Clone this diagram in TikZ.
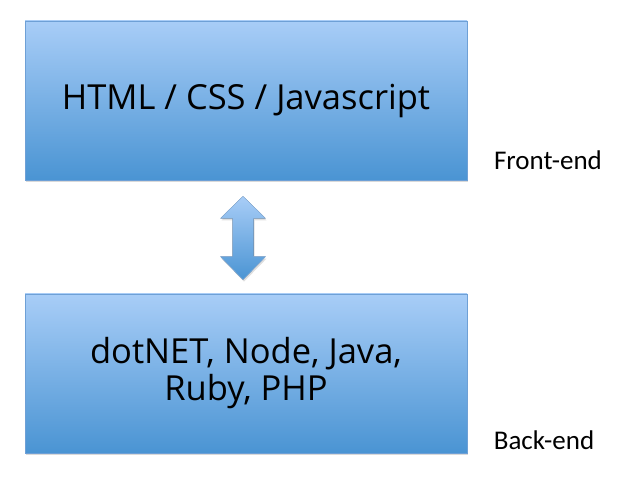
\documentclass[tikz,border=0pt]{standalone}
\usepackage{fontspec}
\setmainfont{Carlito}
\newfontfamily\cutiefont{Open Sans}
\usetikzlibrary{shadows,calc}

\definecolor{bluesus}{RGB}{168,205,247}
\definecolor{bluejos}{RGB}{74,148,211}
\definecolor{bluecontur}{RGB}{110,160,214}

\tikzset{
  cutie/.style={draw=bluecontur,line width=0.6pt,top color=bluesus,bottom color=bluejos,
    minimum width=442pt,minimum height=159pt,align=center,
    font=\cutiefont\fontsize{34.5}{37}\selectfont,
    drop shadow={opacity=0.3,shadow xshift=1pt,shadow yshift=-2pt}},
  eticheta/.style={font=\fontsize{27}{30}\selectfont}
}

\begin{document}
\begin{tikzpicture}[x=1pt,y=1pt]
  \useasboundingbox (0,0) rectangle (625,480);

  % cele două cutii
  \node[cutie] (front) at (246,379.5) {HTML / CSS / Javascript};
  \node[cutie] (back) at (246,106.5) {dotNET, Node, Java,\\Ruby, PHP};

  % etichetele din dreapta
  \node[eticheta] (lfront) at (548,320) {Front-end};
  \node[eticheta] (lback) at (544,40) {Back-end};

  % săgeata dublă dintre cutii
  \coordinate (s1) at ($(front.south)+(-3,-16)$);
  \coordinate (s2) at ($(back.north)+(-3,14)$);
  \fill[top color=bluesus,bottom color=bluejos,draw=bluecontur!80,line width=0.4pt,
    drop shadow={opacity=0.25,shadow xshift=1pt,shadow yshift=-2pt}]
    (s1) -- ++(22.5,-22) -- ++(-12,0) -- ($(s2)+(10.5,23)$) -- ++(12,0)
    -- (s2) -- ++(-22.5,23) -- ++(12,0) -- ($(s1)+(-10.5,-22)$) -- ++(-12,0) -- cycle;
\end{tikzpicture}
\end{document}
